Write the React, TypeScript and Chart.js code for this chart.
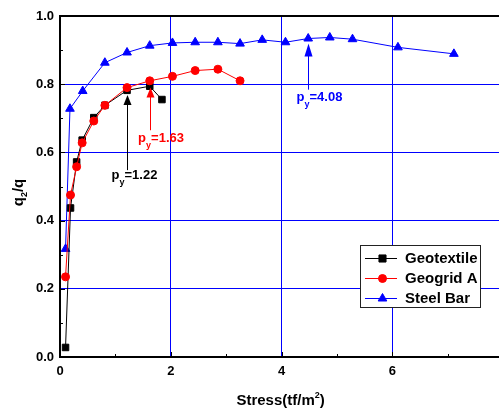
import React, { useEffect, useRef } from 'react';
import { Chart, registerables } from 'chart.js';

Chart.register(...registerables);

// ---- data ----
const geotextileX = [0.10, 0.19, 0.30, 0.40, 0.61, 0.81, 1.21, 1.62, 1.84];
const geotextileY = [0.028, 0.437, 0.572, 0.636, 0.702, 0.738, 0.782, 0.794, 0.755];

const geogridX = [0.10, 0.19, 0.30, 0.40, 0.61, 0.81, 1.21, 1.62, 2.03, 2.44, 2.85, 3.25];
const geogridY = [0.235, 0.475, 0.558, 0.628, 0.692, 0.738, 0.790, 0.810, 0.823, 0.840, 0.844, 0.810];

const steelX = [0.10, 0.18, 0.41, 0.81, 1.21, 1.62, 2.03, 2.44, 2.85, 3.25, 3.65, 4.07, 4.48, 4.87, 5.28, 6.10, 7.11];
const steelY = [0.317, 0.728, 0.780, 0.863, 0.893, 0.913, 0.921, 0.923, 0.923, 0.919, 0.930, 0.923, 0.934, 0.937, 0.932, 0.908, 0.889];

const seriesNames = ['Geotextile', 'Geogrid A', 'Steel Bar'];
const seriesColors = ['#000000', '#ff0000', '#0000ff'];
const seriesMarkers = ['rect', 'circle', 'triangle'];

const xTickValues = [0, 2, 4, 6, 8];
const yTickValues = [0, 0.2, 0.4, 0.6, 0.8, 1.0];

// yield-point annotations (data coordinates)
const annotLabels = ['1.22', '1.63', '4.08'];
const annotArrowX = [1.21, 1.62, 4.48];
const annotTipY = [0.768, 0.790, 0.919];
const annotTailY = [0.548, 0.665, 0.784];
const annotTextX = [0.93, 1.41, 4.27];
const annotTextY = [0.532, 0.642, 0.762];
const annotColors = ['#000000', '#ff0000', '#0000ff'];

const FONT = '"Liberation Sans", Arial, Helvetica, sans-serif';

function toPts(xs: number[], ys: number[]) {
  return xs.map((x, i) => ({ x, y: ys[i] }));
}

function drawMarker(ctx: CanvasRenderingContext2D, style: string, x: number, y: number, r: number, color: string) {
  ctx.save();
  ctx.fillStyle = color;
  ctx.strokeStyle = color;
  ctx.lineWidth = 1;
  ctx.beginPath();
  if (style === 'rect') {
    const s = r * Math.SQRT1_2;
    ctx.rect(x - s, y - s, 2 * s, 2 * s);
  } else if (style === 'circle') {
    ctx.arc(x, y, r, 0, Math.PI * 2);
  } else {
    let rad = 0;
    ctx.moveTo(x + Math.sin(rad) * r, y - Math.cos(rad) * r);
    rad += (2 * Math.PI) / 3;
    ctx.lineTo(x + Math.sin(rad) * r, y - Math.cos(rad) * r);
    rad += (2 * Math.PI) / 3;
    ctx.lineTo(x + Math.sin(rad) * r, y - Math.cos(rad) * r);
    ctx.closePath();
  }
  ctx.fill();
  ctx.stroke();
  ctx.restore();
}

const decorPlugin = {
  id: 'decor',
  afterDraw(chart: any) {
    const ctx: CanvasRenderingContext2D = chart.ctx;
    const xs = chart.scales.x;
    const ys = chart.scales.y;
    const { left, right, top, bottom } = chart.chartArea;
    ctx.save();

    // frame
    ctx.strokeStyle = '#000';
    ctx.lineWidth = 2;
    ctx.beginPath();
    ctx.moveTo(right, top);
    ctx.lineTo(left, top);
    ctx.lineTo(left, bottom);
    ctx.lineTo(right, bottom);
    ctx.stroke();

    // inward tick marks
    ctx.lineWidth = 1;
    ctx.beginPath();
    for (let v = 1; v <= 7; v++) {
      const px = Math.round(xs.getPixelForValue(v)) + 0.5;
      const len = v % 2 === 0 ? 5 : 3;
      ctx.moveTo(px, bottom);
      ctx.lineTo(px, bottom - len);
    }
    for (let i = 1; i <= 9; i++) {
      const py = Math.round(ys.getPixelForValue(i / 10)) + 0.5;
      const len = i % 2 === 0 ? 5 : 3;
      ctx.moveTo(left, py);
      ctx.lineTo(left + len, py);
    }
    ctx.stroke();

    // annotations
    for (let i = 0; i < annotLabels.length; i++) {
      const c = annotColors[i];
      const ax = Math.round(xs.getPixelForValue(annotArrowX[i])) + 0.5;
      const tipY = ys.getPixelForValue(annotTipY[i]);
      const tailY = ys.getPixelForValue(annotTailY[i]);
      const headH = i === 2 ? 13 : 10;
      const headW = 8;
      ctx.strokeStyle = c;
      ctx.fillStyle = c;
      ctx.lineWidth = 1;
      ctx.beginPath();
      ctx.moveTo(ax, tailY);
      ctx.lineTo(ax, tipY + headH - 1);
      ctx.stroke();
      ctx.beginPath();
      ctx.moveTo(ax, tipY);
      ctx.lineTo(ax - headW / 2, tipY + headH);
      ctx.lineTo(ax + headW / 2, tipY + headH);
      ctx.closePath();
      ctx.fill();

      const tx = xs.getPixelForValue(annotTextX[i]);
      const ty = ys.getPixelForValue(annotTextY[i]);
      ctx.textAlign = 'left';
      ctx.textBaseline = 'middle';
      ctx.font = `bold 13px ${FONT}`;
      ctx.fillText('p', tx, ty);
      const wp = ctx.measureText('p').width;
      ctx.font = `bold 9px ${FONT}`;
      ctx.fillText('y', tx + wp, ty + 7);
      const wy = ctx.measureText('y').width;
      ctx.font = `bold 13px ${FONT}`;
      ctx.fillText('=' + annotLabels[i], tx + wp + wy, ty);
    }

    // legend
    const lx = 360.5, ly = 245.5, lw = 120, lh = 62;
    ctx.fillStyle = '#fff';
    ctx.fillRect(lx, ly, lw, lh);
    ctx.strokeStyle = '#222';
    ctx.lineWidth = 1;
    ctx.strokeRect(lx, ly, lw, lh);
    const rows = [257.5, 277.5, 298];
    for (let i = 0; i < seriesNames.length; i++) {
      const ry = Math.round(rows[i]) + 0.5;
      ctx.strokeStyle = seriesColors[i];
      ctx.beginPath();
      ctx.moveTo(365, ry);
      ctx.lineTo(397, ry);
      ctx.stroke();
      const r = seriesMarkers[i] === 'rect' ? 5 : seriesMarkers[i] === 'circle' ? 4 : 5;
      drawMarker(ctx, seriesMarkers[i], 382.5, ry, r, seriesColors[i]);
      ctx.fillStyle = '#000';
      ctx.font = `bold 15px ${FONT}`;
      ctx.textAlign = 'left';
      ctx.textBaseline = 'middle';
      ctx.fillText(seriesNames[i], 405, ry + 0.5);
    }

    // axis titles
    ctx.fillStyle = '#000';
    ctx.textBaseline = 'alphabetic';
    ctx.textAlign = 'left';
    // x title: Stress(tf/m^2)
    const big = `bold 15px ${FONT}`;
    const small = `bold 9px ${FONT}`;
    ctx.font = big;
    const a = 'Stress(tf/m';
    const wa = ctx.measureText(a).width;
    const wc = ctx.measureText(')').width;
    ctx.font = small;
    const wb = ctx.measureText('2').width;
    const total = wa + wb + wc;
    const cx = (left + right) / 2 - 1;
    let sx = cx - total / 2;
    const base = 405;
    ctx.font = big;
    ctx.fillText(a, sx, base);
    ctx.font = small;
    ctx.fillText('2', sx + wa, base - 7);
    ctx.font = big;
    ctx.fillText(')', sx + wa + wb, base);

    // y title: q2/q rotated
    ctx.save();
    ctx.translate(23, 192.5);
    ctx.rotate(-Math.PI / 2);
    ctx.font = big;
    const wq = ctx.measureText('q').width;
    const wr = ctx.measureText('/q').width;
    ctx.font = small;
    const w2 = ctx.measureText('2').width;
    const tt = wq + w2 + wr;
    let qx = -tt / 2;
    ctx.font = big;
    ctx.fillText('q', qx, 0);
    ctx.font = small;
    ctx.fillText('2', qx + wq, 4);
    ctx.font = big;
    ctx.fillText('/q', qx + wq + w2, 0);
    ctx.restore();

    ctx.restore();
  },
};

function gridColor(ctx: any, maxV: number) {
  const v = ctx.tick ? ctx.tick.value : NaN;
  if (Math.abs(v) < 1e-6 || Math.abs(v - maxV) < 1e-6) return 'rgba(0,0,0,0)';
  return '#0000ff';
}

export default function App() {
  const ref = useRef<HTMLCanvasElement>(null);
  useEffect(() => {
    if (!ref.current) return;
    const datasets = [
      { data: toPts(geotextileX, geotextileY), radius: 4.6, order: 1 },
      { data: toPts(geogridX, geogridY), radius: 4, order: 0 },
      { data: toPts(steelX, steelY), radius: 5, order: 2 },
    ].map((d, i) => ({
      label: seriesNames[i],
      data: d.data,
      order: d.order,
      borderColor: seriesColors[i],
      backgroundColor: seriesColors[i],
      pointBackgroundColor: seriesColors[i],
      pointBorderColor: seriesColors[i],
      pointBorderWidth: 1,
      pointStyle: seriesMarkers[i],
      pointRadius: d.radius,
      borderWidth: 1,
      tension: 0,
      fill: false,
      clip: false as any,
    }));
    const chart = new Chart(ref.current, {
      type: 'line',
      data: { datasets },
      options: {
        animation: false,
        responsive: false,
        maintainAspectRatio: false,
        devicePixelRatio: 1,
        layout: { padding: { left: 0, top: 16, right: 16.8, bottom: 0 } },
        plugins: {
          legend: { display: false },
          tooltip: { enabled: false },
          title: { display: false },
        },
        scales: {
          x: {
            type: 'linear',
            min: 0,
            max: 8,
            afterFit: (s: any) => { s.height = 53; },
            afterBuildTicks: (s: any) => { s.ticks = xTickValues.map((v) => ({ value: v })); },
            ticks: {
              padding: 7,
              color: '#000',
              maxRotation: 0,
              autoSkip: false,
              font: { family: FONT, size: 13, weight: 'bold' },
            },
            grid: { color: (c: any) => gridColor(c, 8), lineWidth: 1, drawTicks: false },
            border: { display: false },
          },
          y: {
            type: 'linear',
            min: 0,
            max: 1,
            afterFit: (s: any) => { s.width = 60; },
            afterBuildTicks: (s: any) => { s.ticks = yTickValues.map((v) => ({ value: v })); },
            ticks: {
              padding: 6,
              color: '#000',
              autoSkip: false,
              callback: (v: any) => Number(v).toFixed(1),
              font: { family: FONT, size: 13, weight: 'bold' },
            },
            grid: { color: (c: any) => gridColor(c, 1), lineWidth: 1, drawTicks: false },
            border: { display: false },
          },
        },
      } as any,
      plugins: [decorPlugin],
    });
    return () => chart.destroy();
  }, []);
  return (
    <div style={{ position: 'fixed', left: 0, top: 0, width: 499, height: 410, overflow: 'hidden', background: '#fff' }}>
      <canvas ref={ref} width={520} height={410} style={{ display: 'block', width: 520, height: 410 }} />
    </div>
  );
}
